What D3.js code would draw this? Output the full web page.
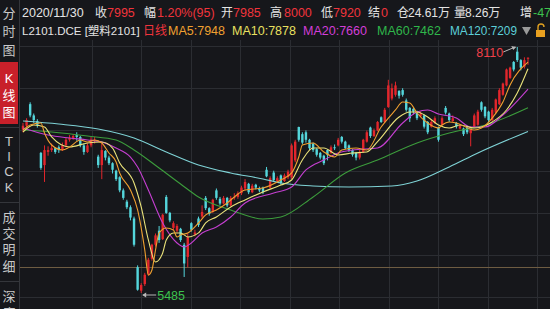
<!DOCTYPE html>
<html>
<head>
<meta charset="utf-8">
<script src="https://cdn.jsdelivr.net/npm/d3@7"></script>
<style>
  html, body { margin: 0; padding: 0; background: #16171b; }
  svg { display: block; }
  text { font-family: "Liberation Sans", "Noto Sans CJK SC", sans-serif; }
</style>
</head>
<body>
<div id="chart"></div>
<script>
// daily bars, L2101
const opens = [7230,7270,7500,7380,7320,6980,6850,6990,7010,7030,7040,7010,7060,7120,7140,7170,7150,7060,6990,7060,
  7110,6940,6850,7000,6930,6870,6790,6720,6580,6460,6400,6280,5760,5510,5580,5690,5850,6000,6150,6060,
  6510,6340,6180,6150,6170,6000,5870,6230,6110,6280,6300,6500,6390,6350,6580,6490,6440,6500,6420,6500,
  6510,6550,6600,6650,6560,6640,6600,6610,6800,6610,6770,6680,6740,6680,6720,6720,6900,7256,7180,7200,
  7120,7080,7020,6980,6950,7010,6980,7040,7060,7150,7100,7060,7010,6980,6930,6990,7100,7250,7160,7220,
  7360,7310,7470,7560,7600,7640,7650,7540,7460,7450,7420,7370,7380,7310,7260,7300,7250,7280,7460,7400,
  7320,7300,7240,7240,7250,7190,7260,7280,7520,7470,7420,7330,7410,7500,7600,7700,7780,7950,8060,7970,
  7900,7985];
const highs = [7300,7350,7520,7400,7340,6990,7060,7050,7080,7040,7060,7090,7140,7170,7180,7200,7160,7080,7080,7150,
  7150,6960,7080,7010,6950,6880,6800,6730,6600,6480,6420,6300,5780,5590,5700,5860,6010,6120,6200,6330,
  6530,6350,6250,6220,6180,6020,6120,6240,6160,6300,6420,6520,6400,6490,6600,6510,6520,6510,6520,6550,
  6570,6630,6700,6660,6650,6650,6620,6620,6830,6730,6790,6730,6750,6760,6800,7080,7120,7260,7200,7220,
  7130,7090,7030,6990,6960,7020,7060,7070,7140,7160,7110,7070,7020,6990,7010,7130,7220,7260,7240,7320,
  7370,7460,7760,7720,7740,7650,7670,7560,7470,7460,7430,7420,7390,7320,7330,7370,7260,7370,7480,7410,
  7380,7310,7290,7250,7260,7260,7400,7440,7530,7480,7430,7460,7560,7670,7730,7880,7900,7960,8110,7980,
  8000,8000];
const lows = [7200,7250,7360,7300,7250,6800,6670,6950,6990,6970,6980,7000,7040,7100,7120,7110,7040,6960,6980,7040,
  7080,6820,6700,6900,6850,6760,6680,6560,6480,6380,6260,5980,5510,5485,5560,5670,5830,5980,6020,6050,
  6330,6240,6160,6130,6030,5656,5760,6140,6090,6190,6280,6370,6310,6340,6480,6420,6430,6400,6410,6480,
  6490,6530,6580,6540,6550,6590,6560,6540,6720,6600,6680,6660,6640,6670,6700,6700,6880,7100,7070,7090,
  7010,6990,6940,6910,6850,6900,6970,7010,7050,7080,7020,6990,6940,6900,6910,6980,7090,7140,7150,7210,
  7300,7300,7460,7540,7580,7560,7580,7420,7310,7390,7330,7360,7240,7180,7250,7290,7100,7270,7390,7310,
  7310,7240,7230,7160,7180,7050,7250,7270,7420,7350,7310,7320,7400,7490,7590,7690,7770,7850,7950,7860,
  7880,7920];
const closes = [7270,7330,7380,7330,7280,6820,7010,7010,7030,6990,7010,7060,7120,7140,7160,7150,7060,6990,7060,7120,
  7120,6850,7010,6930,6870,6800,6700,6580,6500,6400,6290,6000,5520,5570,5680,5840,6000,6100,6050,6320,
  6340,6260,6230,6200,6050,5800,6080,6160,6130,6210,6350,6390,6330,6480,6500,6440,6500,6420,6500,6510,
  6550,6610,6670,6560,6630,6610,6580,6560,6730,6710,6690,6710,6660,6740,6780,7060,7100,7120,7090,7120,
  7030,7010,6960,6930,6870,6960,7040,7030,7120,7100,7030,7010,6960,6930,6990,7120,7200,7160,7220,7310,
  7310,7440,7700,7670,7700,7590,7600,7440,7350,7420,7350,7400,7260,7200,7310,7350,7120,7350,7410,7330,
  7350,7260,7270,7180,7200,7250,7380,7420,7440,7370,7330,7440,7550,7650,7720,7870,7890,7870,7970,7890,
  7970,7995];

// moving averages as [bar, value]
const ma5 = [[0,7224],[2,7278],[5,7299],[6,7192],[8,7064],[11,7011],[13,7043],[16,7118],[18,7096],[20,7118],
  [22,7086],[24,6979],[26,6883],[27,6766],[30,6584],[32,6371],[34,5944],[35,5677],[36,5731],[37,5944],
  [38,6126],[40,6179],[42,6157],[43,6083],[44,6104],[46,6126],[49,6232],[51,6318],[54,6371],[57,6446],
  [59,6510],[62,6584],[67,6606],[72,6691],[75,6766],[77,6936],[78,7064],[81,7086],[84,6990],[87,6936],
  [89,7011],[93,7032],[96,7011],[100,7256],[104,7438],[106,7523],[108,7513],[110,7406],[113,7299],[116,7246],
  [117,7278],[119,7310],[121,7299],[126,7224],[128,7246],[131,7352],[134,7523],[136,7705],[141,7948]];
const ma10 = [[0,7203],[3,7278],[6,7256],[8,7150],[13,7043],[18,7086],[22,7096],[25,7032],[27,6872],[31,6659],
  [33,6403],[35,6051],[37,5816],[39,5912],[40,6051],[42,6126],[44,6126],[46,6083],[49,6126],[51,6232],
  [54,6296],[58,6403],[62,6478],[67,6563],[72,6637],[75,6691],[78,6904],[81,7032],[84,7032],[88,6958],
  [92,6979],[96,6990],[99,7100],[105,7363],[108,7416],[110,7416],[113,7363],[116,7278],[119,7246],[122,7278],
  [126,7246],[128,7256],[131,7310],[135,7438],[138,7619],[141,7878]];
const ma20 = [[0,7246],[7,7171],[13,7139],[18,7118],[22,7096],[26,7032],[30,6936],[32,6830],[35,6584],[39,6232],
  [43,6019],[45,5976],[47,6019],[50,6126],[54,6189],[58,6296],[62,6446],[70,6552],[75,6616],[79,6798],
  [84,6904],[88,6979],[92,7011],[99,7032],[106,7299],[110,7416],[113,7438],[116,7395],[121,7352],[125,7256],
  [129,7256],[134,7384],[141,7660]];
const ma60 = [[0,7224],[8,7203],[18,7160],[26,7118],[31,7011],[38,6819],[44,6648],[49,6510],[58,6371],[67,6275],
  [72,6296],[81,6510],[90,6766],[99,6904],[110,7086],[119,7192],[130,7288],[141,7462]];
const ma120 = [[0,7320],[10,7288],[21,7235],[31,7139],[40,6990],[49,6851],[58,6766],[67,6702],[72,6659],[81,6627],
  [91,6616],[103,6627],[110,6680],[119,6830],[127,6979],[141,7209]];

const maLines = [
  {data: ma120, color: "#7fd3d6"},
  {data: ma60, color: "#3c9c3c"},
  {data: ma20, color: "#c43fd0"},
  {data: ma10, color: "#eae37a"},
  {data: ma5, color: "#f0a030"}
];

const sideTabs = ["分时图", "K线图", "TICK", "成交明细", "深度"];

const width = 550, height = 309;
const svg = d3.select("#chart").append("svg")
    .attr("width", width)
    .attr("height", height);

svg.append("rect").attr("width", width).attr("height", height).attr("fill", "#16171b");

// price scale, anchored on the marked high and low
let yScale = d3.scaleLinear()
    .domain([5485, 8110])
    .range([293, 47]);
let xScale = d3.scaleLinear()
    .domain([0, closes.length - 1])
    .range([23, 528]);

// grid
let grid = svg.append("g");
[46, 88, 130, 171, 213, 255, 297].forEach(y => {
    grid.append("line").attr("x1", 20).attr("x2", width).attr("y1", y + 0.5).attr("y2", y + 0.5)
        .attr("stroke", "#2b2d32").attr("stroke-width", 1);
});
[92, 141, 191, 240, 290, 339, 389, 438, 488, 537].forEach(x => {
    grid.append("line").attr("x1", x + 0.5).attr("x2", x + 0.5).attr("y1", 40).attr("y2", height)
        .attr("stroke", "#2b2d32").attr("stroke-width", 1);
});
grid.append("line").attr("x1", 20).attr("x2", width).attr("y1", 267.5).attr("y2", 267.5)
    .attr("stroke", "#6e5c42").attr("stroke-width", 1.2);

svg.append("defs").append("clipPath").attr("id", "plot")
    .append("rect").attr("x", 20).attr("y", 40).attr("width", 530).attr("height", 269);

let plot = svg.append("g").attr("clip-path", "url(#plot)");

// candles
let bars = closes.map((c, i) => ({i: i, o: opens[i], h: highs[i], l: lows[i], c: c}));
let upColor = "#e2262c", downColor = "#54d6dc";
let bw = 2.4;

plot.selectAll("line.wick").data(bars).enter().append("line")
    .attr("class", "wick")
    .attr("x1", d => xScale(d.i)).attr("x2", d => xScale(d.i))
    .attr("y1", d => yScale(d.h)).attr("y2", d => yScale(d.l))
    .attr("stroke", d => d.c >= d.o ? upColor : downColor)
    .attr("stroke-width", 1);

plot.selectAll("rect.body").data(bars).enter().append("rect")
    .attr("class", "body")
    .attr("x", d => xScale(d.i) - bw / 2)
    .attr("y", d => yScale(Math.max(d.o, d.c)))
    .attr("width", bw)
    .attr("height", d => Math.max(1, Math.abs(yScale(d.o) - yScale(d.c))))
    .attr("fill", d => d.c >= d.o ? upColor : downColor);

// moving averages
let line = d3.line()
    .x(d => xScale(d[0]))
    .y(d => yScale(d[1]))
    .curve(d3.curveMonotoneX);

maLines.forEach(m => {
    plot.append("path")
        .datum(m.data)
        .attr("d", line)
        .attr("fill", "none")
        .attr("stroke", m.color)
        .attr("stroke-width", 1.1);
});

// high / low marks
let hiIdx = d3.maxIndex(highs), loIdx = d3.minIndex(lows);
let hx = xScale(hiIdx), hy = yScale(highs[hiIdx]);
plot.append("line").attr("x1", hx - 14).attr("y1", hy + 5).attr("x2", hx - 2).attr("y2", hy)
    .attr("stroke", "#b8b8b8").attr("stroke-width", 1);
plot.append("path").attr("d", `M${hx - 1},${hy} l-5,-1 l2,4 z`).attr("fill", "#b8b8b8");
plot.append("text").attr("x", hx - 14).attr("y", hy + 10)
    .attr("text-anchor", "end").attr("fill", "#f0404a").attr("font-size", 12.5)
    .text(highs[hiIdx]);

let lx = xScale(loIdx), ly = yScale(lows[loIdx]);
plot.append("line").attr("x1", lx + 2).attr("y1", ly + 2).attr("x2", lx + 15).attr("y2", ly + 2)
    .attr("stroke", "#b8b8b8").attr("stroke-width", 1);
plot.append("path").attr("d", `M${lx + 1},${ly + 2} l4,-2.5 l0,5 z`).attr("fill", "#b8b8b8");
plot.append("text").attr("x", lx + 16).attr("y", ly + 7)
    .attr("fill", "#3dc24e").attr("font-size", 12.5)
    .text(lows[loIdx]);

// side tabs
let side = svg.append("g");
side.append("rect").attr("x", 0).attr("y", 62).attr("width", 18).attr("height", 62).attr("fill", "#c8202a");
[127, 202, 281].forEach(y => {
    side.append("line").attr("x1", 0).attr("x2", 19).attr("y1", y + 0.5).attr("y2", y + 0.5)
        .attr("stroke", "#34363b");
});
svg.append("line").attr("x1", 19.5).attr("x2", 19.5).attr("y1", 0).attr("y2", height)
    .attr("stroke", "#34363b");
let tabTop = [13, 78, 141, 217, 296];
let tabStep = [18.5, 17, 15.3, 16.3, 17];
sideTabs.forEach((t, k) => {
    let tt = side.append("text")
        .attr("text-anchor", "middle")
        .attr("fill", k === 1 ? "#ffffff" : "#c9c9c9")
        .attr("font-size", 13);
    Array.from(t).forEach((ch, j) => {
        tt.append("tspan")
            .attr("x", 9).attr("y", tabTop[k] + j * tabStep[k] + 4.7)
            .text(ch);
    });
});

// header: [x, text, colour, size, forced width]
let white = "#e4e4e4", red = "#f0343c";
let row1 = [
    [22, "2020/11/30", white], [95, "收", white, 12], [107, "7995", red],
    [144, "幅", white, 12], [157, "1.20%(95)", red], [221, "开", white, 12], [233, "7985", red],
    [270, "高", white, 12], [284, "8000", red], [321, "低", white, 12], [333, "7920", red],
    [368, "结", white, 12], [381, "0", red], [397, "仓", white, 12], [408, "24.61万", white, 12],
    [454, "量", white, 12], [465, "8.26万", white, 12],
    [520, "增", white, 12], [533, "-47", "#3dc24e"]
];
let row2 = [
    [22, "L2101.DCE [塑料2101]", white, 11.5], [143, "日线", red, 12],
    [168, "MA5:7948", "#f0a030"], [232, "MA10:7878", "#e8e060"], [303, "MA20:7660", "#d23ed8"],
    [377, "MA60:7462", "#2fb64a"], [450, "MA120:7209", "#5ccfd8", 12.5, 67]
];
let head = svg.append("g");
function headText(r, y) {
    let t = head.append("text").attr("x", r[0]).attr("y", y).attr("fill", r[2])
        .attr("font-size", r[3] || 12.5).text(r[1]);
    if (r[4]) t.attr("textLength", r[4]).attr("lengthAdjust", "spacingAndGlyphs");
}
row1.forEach(r => headText(r, 17));
row2.forEach(r => headText(r, 35));

// menu triangle and lock
head.append("path").attr("d", "M522,27 L531,27 L526.5,35 Z").attr("fill", "#9a9a9a");
head.append("path").attr("d", "M538,30 v-3 a3,3 0 0 1 6,0").attr("fill", "none")
    .attr("stroke", "#e0a020").attr("stroke-width", 1.4);
head.append("rect").attr("x", 536).attr("y", 30).attr("width", 9).attr("height", 7).attr("fill", "#e8a020");
</script>
</body>
</html>
